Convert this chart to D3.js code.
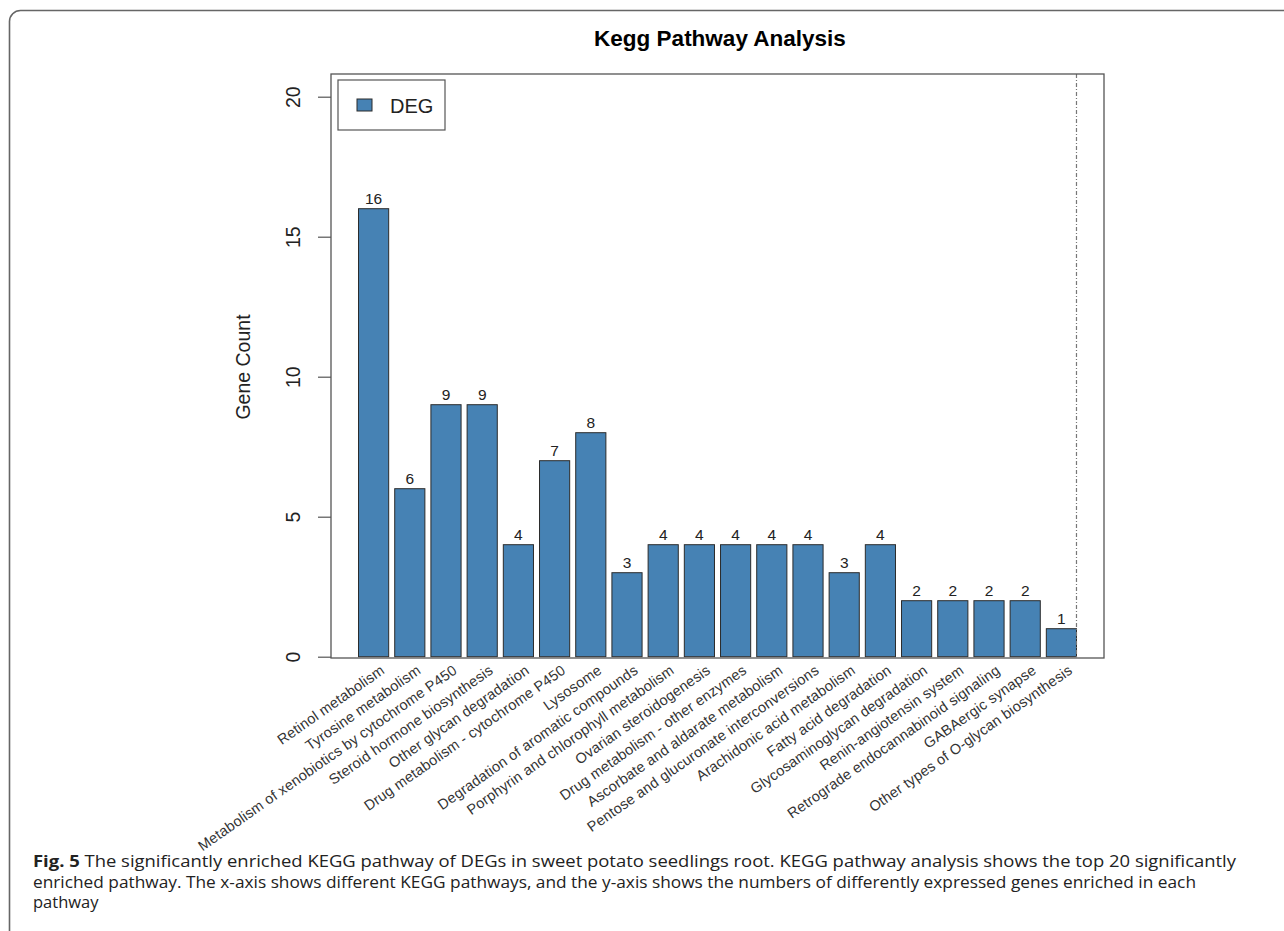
<!DOCTYPE html>
<html>
<head>
<meta charset="utf-8">
<script src="https://cdn.jsdelivr.net/npm/d3@7"></script>
<style>
  body { margin: 0; background: #fff; }
  svg { display: block; }
</style>
</head>
<body>
<div id="chart"></div>
<script>
// KEGG pathways and their gene counts
var pathways = [
    "Retinol metabolism",
    "Tyrosine metabolism",
    "Metabolism of xenobiotics by cytochrome P450",
    "Steroid hormone biosynthesis",
    "Other glycan degradation",
    "Drug metabolism - cytochrome P450",
    "Lysosome",
    "Degradation of aromatic compounds",
    "Porphyrin and chlorophyll metabolism",
    "Ovarian steroidogenesis",
    "Drug metabolism - other enzymes",
    "Ascorbate and aldarate metabolism",
    "Pentose and glucuronate interconversions",
    "Arachidonic acid metabolism",
    "Fatty acid degradation",
    "Glycosaminoglycan degradation",
    "Renin-angiotensin system",
    "Retrograde endocannabinoid signaling",
    "GABAergic synapse",
    "Other types of O-glycan biosynthesis"
];
var geneCounts = [16, 6, 9, 9, 4, 7, 8, 3, 4, 4, 4, 4, 4, 3, 4, 2, 2, 2, 2, 1];
var yTicks = [0, 5, 10, 15, 20];
var seriesName = "DEG";

var captionLines = [
    ["Fig. 5", "The significantly enriched KEGG pathway of DEGs in sweet potato seedlings root. KEGG pathway analysis shows the top 20 significantly"],
    ["", "enriched pathway. The x-axis shows different KEGG pathways, and the y-axis shows the numbers of differently expressed genes enriched in each"],
    ["", "pathway"]
];

var width = 1284, height = 931;
var box = { left: 331, right: 1104, top: 74, bottom: 658 };
var barColor = "#4682b4";

var svg = d3.select("#chart").append("svg")
    .attr("width", width)
    .attr("height", height);

// outer rounded frame (runs off the right and bottom edges)
svg.append("rect")
    .attr("x", 9.5).attr("y", 10.5)
    .attr("width", width + 20).attr("height", height + 20)
    .attr("rx", 11).attr("ry", 11)
    .style("fill", "none")
    .style("stroke", "#666")
    .style("stroke-width", 1.6);

// scales
var x = d3.scaleBand()
    .domain(pathways)
    .range([box.left, box.right])
    .paddingInner(0.1667)
    .paddingOuter(0.76);

var y = d3.scaleLinear()
    .domain([0, 20])
    .range([656.7, 96.7]);

// title
svg.append("text")
    .attr("x", 720).attr("y", 46)
    .attr("text-anchor", "middle")
    .style("font-family", "Liberation Sans, Arial, sans-serif")
    .style("font-weight", "bold")
    .style("font-size", "22.5px")
    .text("Kegg Pathway Analysis");

// bars
svg.selectAll("rect.bar")
    .data(geneCounts)
    .enter().append("rect")
    .attr("class", "bar")
    .attr("x", function (d, i) { return x(pathways[i]); })
    .attr("y", function (d) { return y(d); })
    .attr("width", x.bandwidth())
    .attr("height", function (d) { return y(0) - y(d); })
    .style("fill", barColor)
    .style("stroke", "#2b2b2b")
    .style("stroke-width", 1);

// value labels on top of bars
svg.selectAll("text.value")
    .data(geneCounts)
    .enter().append("text")
    .attr("class", "value")
    .attr("x", function (d, i) { return x(pathways[i]) + x.bandwidth() / 2; })
    .attr("y", function (d) { return y(d) - 5; })
    .attr("text-anchor", "middle")
    .style("font-family", "Liberation Sans, Arial, sans-serif")
    .style("font-size", "15.5px")
    .style("fill", "#222")
    .text(function (d) { return d; });

// dotted-dashed vertical line at the end of the last bar
var lastEdge = x(pathways[pathways.length - 1]) + x.bandwidth();
svg.append("line")
    .attr("x1", lastEdge).attr("x2", lastEdge)
    .attr("y1", box.top).attr("y2", box.bottom)
    .style("stroke", "#777")
    .style("stroke-width", 1.2)
    .style("stroke-dasharray", "4,2,1,2");

// plot box
svg.append("rect")
    .attr("x", box.left).attr("y", box.top)
    .attr("width", box.right - box.left)
    .attr("height", box.bottom - box.top)
    .style("fill", "none")
    .style("stroke", "#555")
    .style("stroke-width", 1.3);

// y axis
var yAxis = svg.append("g")
    .attr("transform", "translate(" + box.left + ",0)")
    .call(d3.axisLeft(y).tickValues(yTicks).tickSize(13).tickPadding(0));
yAxis.select(".domain").remove();
yAxis.selectAll(".tick line").style("stroke", "#555").style("stroke-width", 1.2);
yAxis.selectAll(".tick text")
    .attr("x", null).attr("dy", null)
    .attr("transform", "translate(-38,0) rotate(-90)")
    .attr("text-anchor", "middle")
    .attr("dominant-baseline", "central")
    .style("font-family", "Liberation Sans, Arial, sans-serif")
    .style("font-size", "19.5px")
    .style("fill", "#222");

svg.append("text")
    .attr("transform", "translate(243,367) rotate(-90)")
    .attr("text-anchor", "middle")
    .attr("dominant-baseline", "central")
    .style("font-family", "Liberation Sans, Arial, sans-serif")
    .style("font-size", "19.5px")
    .style("fill", "#222")
    .text("Gene Count");

// rotated category labels
svg.selectAll("text.cat")
    .data(pathways)
    .enter().append("text")
    .attr("class", "cat")
    .attr("transform", function (d) {
        return "translate(" + (x(d) + x.bandwidth() / 2 + 6) + ",664) rotate(-35)";
    })
    .attr("dy", "0.72em")
    .attr("text-anchor", "end")
    .style("font-family", "Liberation Sans, Arial, sans-serif")
    .style("font-size", "14.5px")
    .style("letter-spacing", "0.2px")
    .style("fill", "#333")
    .text(function (d) { return d; });

// legend
var legend = svg.append("g").attr("transform", "translate(338,80)");
legend.append("rect")
    .attr("width", 107).attr("height", 50)
    .style("fill", "#fff")
    .style("stroke", "#555")
    .style("stroke-width", 1.2);
legend.append("rect")
    .attr("x", 19).attr("y", 19)
    .attr("width", 15).attr("height", 12)
    .style("fill", barColor)
    .style("stroke", "#2b2b2b")
    .style("stroke-width", 1);
legend.append("text")
    .attr("x", 52).attr("y", 32.5)
    .style("font-family", "Liberation Sans, Arial, sans-serif")
    .style("font-size", "20px")
    .style("fill", "#222")
    .text(seriesName);

// caption
var lineWidths = [1203, 1163, 0];
captionLines.forEach(function (line, i) {
    var t = svg.append("text")
        .attr("x", 33)
        .attr("y", 867 + i * 20.5)
        .style("font-family", "Open Sans, Noto Sans, sans-serif")
        .style("font-size", "16.5px")
        .style("fill", "#222");
    if (line[0]) {
        t.append("tspan").style("font-weight", "bold").text(line[0] + "  ");
    }
    t.append("tspan").text(line[1]);
    if (lineWidths[i]) {
        t.attr("textLength", lineWidths[i]).attr("lengthAdjust", "spacingAndGlyphs");
    }
});
</script>
</body>
</html>
